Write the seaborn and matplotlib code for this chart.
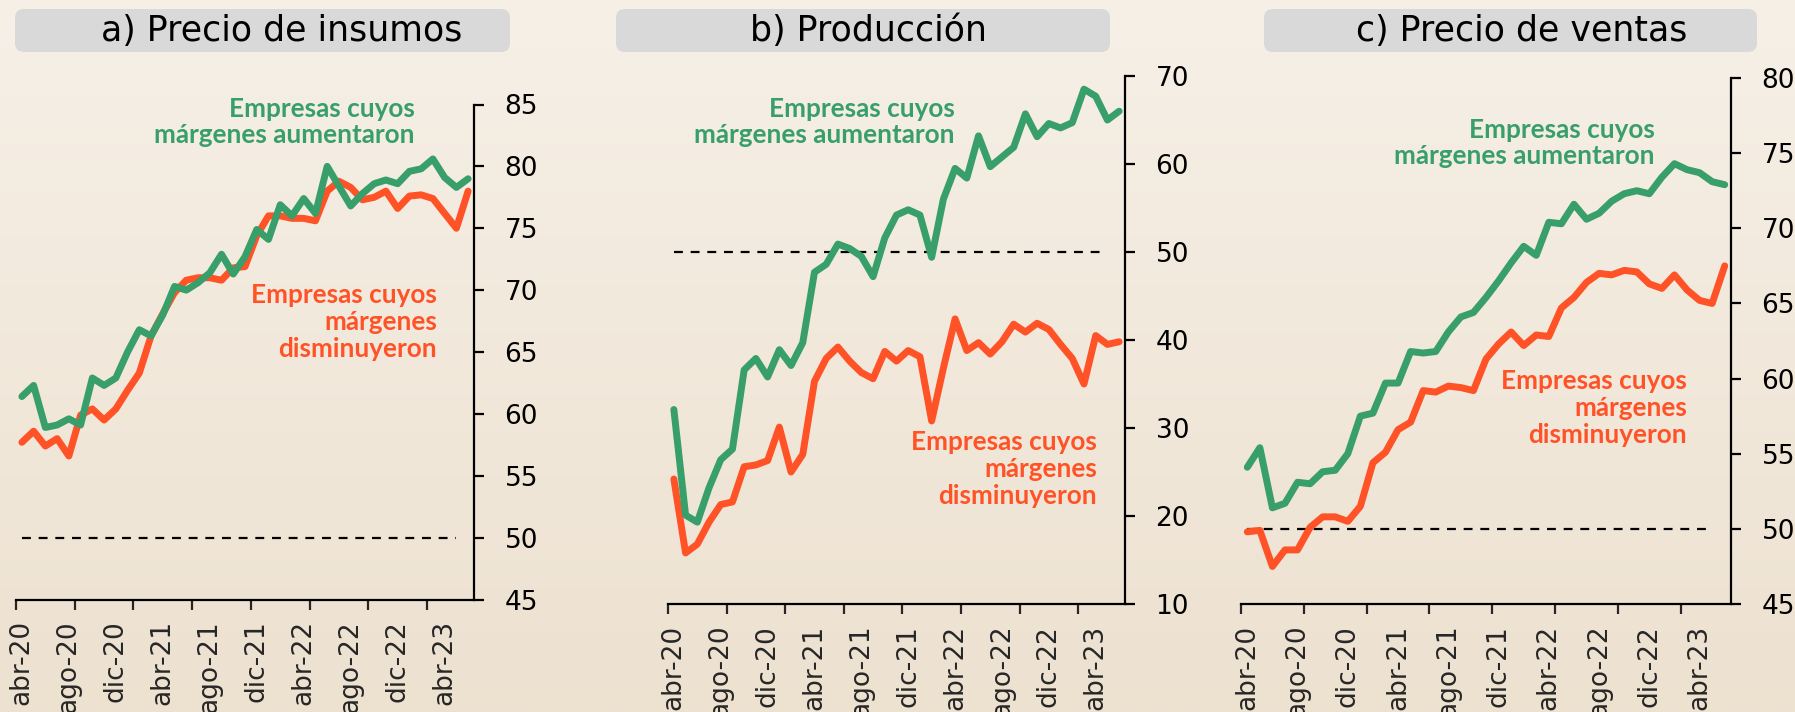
import numpy as np
import seaborn as sns
import matplotlib.pyplot as plt
from matplotlib.patches import FancyBboxPatch

# meses (abr-20 a jun-23)
meses = ['abr-20', 'may-20', 'jun-20', 'jul-20', 'ago-20', 'sep-20', 'oct-20', 'nov-20',
         'dic-20', 'ene-21', 'feb-21', 'mar-21', 'abr-21', 'may-21', 'jun-21', 'jul-21',
         'ago-21', 'sep-21', 'oct-21', 'nov-21', 'dic-21', 'ene-22', 'feb-22', 'mar-22',
         'abr-22', 'may-22', 'jun-22', 'jul-22', 'ago-22', 'sep-22', 'oct-22', 'nov-22',
         'dic-22', 'ene-23', 'feb-23', 'mar-23', 'abr-23', 'may-23', 'jun-23']

# a) Precio de insumos
insumos_aum = [61.4, 62.3, 58.9, 59.1, 59.6, 59.1, 62.9, 62.3, 62.9, 65.0, 66.8, 66.3, 68.0,
               70.3, 70.0, 70.6, 71.4, 72.9, 71.3, 72.7, 74.9, 74.1, 76.9, 76.0, 77.4, 76.2,
               80.0, 78.4, 76.8, 77.8, 78.6, 78.9, 78.6, 79.6, 79.8, 80.6, 79.1, 78.3, 79.0]
insumos_dis = [57.7, 58.6, 57.4, 58.0, 56.6, 59.9, 60.4, 59.5, 60.4, 61.9, 63.3, 66.3, 68.1,
               69.8, 70.8, 71.0, 71.0, 70.8, 71.8, 71.9, 74.4, 76.0, 76.0, 75.8, 75.8, 75.6,
               78.0, 78.8, 78.3, 77.3, 77.5, 78.0, 76.6, 77.6, 77.7, 77.4, 76.2, 75.0, 78.0]

# b) Producción
prod_aum = [32.1, 20.1, 19.3, 23.2, 26.4, 27.6, 36.6, 37.9, 35.8, 38.9, 37.1, 39.7, 47.7,
            48.6, 50.9, 50.4, 49.5, 47.2, 51.6, 54.2, 54.8, 54.2, 49.4, 56.0, 59.5, 58.4,
            63.2, 59.7, 60.8, 61.9, 65.7, 63.1, 64.6, 64.1, 64.7, 68.5, 67.7, 65.0, 66.0]
prod_dis = [24.2, 15.8, 16.8, 19.3, 21.3, 21.6, 25.6, 25.8, 26.3, 30.1, 25.0, 27.0, 35.3,
            37.9, 39.2, 37.6, 36.3, 35.6, 38.7, 37.6, 38.8, 38.1, 30.8, 36.8, 42.4, 38.8,
            39.7, 38.4, 39.8, 41.8, 40.9, 41.9, 41.2, 39.5, 37.9, 35.0, 40.5, 39.5, 39.8]

# c) Precio de ventas
ventas_aum = [54.1, 55.4, 51.4, 51.7, 53.1, 53.0, 53.8, 53.9, 55.0, 57.5, 57.7, 59.7, 59.7,
              61.8, 61.7, 61.8, 63.1, 64.1, 64.4, 65.4, 66.5, 67.7, 68.8, 68.2, 70.4, 70.3,
              71.6, 70.6, 71.0, 71.8, 72.3, 72.5, 72.3, 73.4, 74.3, 73.9, 73.7, 73.1, 72.9]
ventas_dis = [49.8, 49.9, 47.5, 48.6, 48.6, 50.1, 50.8, 50.8, 50.5, 51.5, 54.4, 55.1, 56.6,
              57.1, 59.2, 59.1, 59.5, 59.4, 59.2, 61.3, 62.3, 63.1, 62.2, 62.9, 62.8, 64.7,
              65.4, 66.4, 67.0, 66.9, 67.2, 67.1, 66.3, 66.0, 66.9, 65.9, 65.2, 65.0, 67.5]

titulos = ['a) Precio de insumos', 'b) Producción', 'c) Precio de ventas']
umbral = 50

VERDE = '#389e6a'
ROJO = '#ff5226'
W, H = 1795, 712

sns.set_style('white')
plt.rcParams['font.family'] = ['DejaVu Sans']

fig = plt.figure(figsize=(W / 100, H / 100), dpi=100)

# fondo con degradado
bg = fig.add_axes([0, 0, 1, 1])
bg.set_xlim(0, W)
bg.set_ylim(H, 0)
bg.axis('off')
top = np.array([246, 240, 231]) / 255
bot = np.array([237, 225, 208]) / 255
t = np.linspace(0, 1, 256)[:, None, None]
grad = top * (1 - t) + bot * t
bg.imshow(grad, extent=[0, W, H, 0], aspect='auto', zorder=0)


def px_axes(left, right, ytop, ybot):
    return fig.add_axes([left / W, 1 - ybot / H, (right - left) / W, (ybot - ytop) / H])


paneles = [
    dict(pos=(16, 474, 104.5, 599.5), ylim=(45, 85), step=5, aum=insumos_aum, dis=insumos_dis,
         box=(15, 510), tx=282, g=(415, 122), r=(437, 322)),
    dict(pos=(668, 1125, 76, 604), ylim=(10, 70), step=10, aum=prod_aum, dis=prod_dis,
         box=(616, 1110), tx=868, g=(955, 122), r=(1097, 469)),
    dict(pos=(1241, 1731, 78, 604), ylim=(45, 80), step=5, aum=ventas_aum, dis=ventas_dis,
         box=(1264, 1757), tx=1522, g=(1655, 143), r=(1687, 408)),
]

x = np.arange(len(meses))
for p, titulo in zip(paneles, titulos):
    ax = px_axes(*p['pos'])
    ax.set_facecolor('none')
    ax.hlines(umbral, 0, 37, colors='black', linestyles=(0, (4, 3.5)), linewidth=1.6, zorder=1)
    sns.lineplot(x=x, y=p['dis'], ax=ax, color=ROJO, linewidth=5, zorder=3)
    sns.lineplot(x=x, y=p['aum'], ax=ax, color=VERDE, linewidth=5, zorder=4)
    for ln in ax.get_lines():
        ln.set_solid_joinstyle('round')

    ax.set_xlim(-0.5, len(meses) - 0.5)
    ax.set_ylim(*p['ylim'])
    ax.set_yticks(np.arange(p['ylim'][0], p['ylim'][1] + 0.1, p['step']))
    ax.yaxis.tick_right()
    ax.tick_params(axis='y', direction='out', length=7, width=1.6, pad=15,
                   labelsize=19, colors='black', right=True)
    ax.set_xticks(x[::4])
    ax.set_xticklabels(meses[::4], rotation=90)
    ax.set_xticks(np.arange(-0.5, 35, 5), minor=True)
    ax.tick_params(axis='x', which='major', length=0, pad=15, labelsize=19)
    ax.tick_params(axis='x', which='minor', direction='out', length=7, width=1.6, bottom=True)
    for s in ['left', 'top']:
        ax.spines[s].set_visible(False)
    for s in ['right', 'bottom']:
        ax.spines[s].set_color('black')
        ax.spines[s].set_linewidth(1.6)
    ax.set_xlabel('')
    ax.set_ylabel('')

    # caja del título
    x0, x1 = p['box']
    bg.add_patch(FancyBboxPatch((x0, 9), x1 - x0, 43, boxstyle='round,pad=0,rounding_size=9',
                                fc='#d9d9d9', ec='none', zorder=2))
    bg.text(p['tx'], 31, titulo, ha='center', va='center', fontsize=25, color='black', zorder=3)

    bg.text(p['g'][0], p['g'][1], 'Empresas cuyos\nmárgenes aumentaron', ha='right', va='center',
            multialignment='right', color=VERDE, fontsize=18.8, fontweight='bold',
            family=['Lato', 'DejaVu Sans'], linespacing=1.13, zorder=5)
    bg.text(p['r'][0], p['r'][1], 'Empresas cuyos\nmárgenes\ndisminuyeron', ha='right', va='center',
            multialignment='right', color=ROJO, fontsize=18.8, fontweight='bold',
            family=['Lato', 'DejaVu Sans'], linespacing=1.13, zorder=5)

fig.savefig('out.png', dpi=100)
